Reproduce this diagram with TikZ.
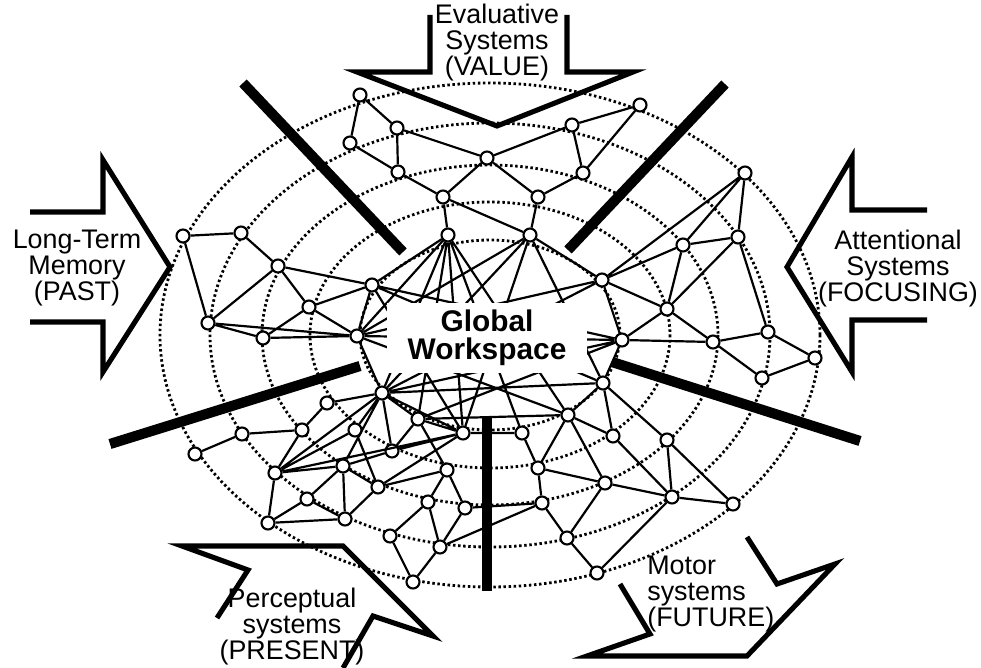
\documentclass[tikz,border=0pt]{standalone}
\usepackage{fontspec}
\setmainfont{Liberation Sans}

\begin{document}
\begin{tikzpicture}[x=0.02cm,y=-0.02cm,
  nd/.style={circle,draw,fill=white,line width=1.2pt,inner sep=0pt,minimum size=0.26cm},
  ln/.style={line width=1.25pt},
  ring/.style={line width=1.6pt,dash pattern=on 1.4pt off 1.5pt},
  bar/.style={line width=5.8pt},
  arr/.style={line width=2.9pt,line join=miter},
  lbl/.style={align=center,inner sep=0pt,font=\fontsize{15.3}{14.8}\selectfont}]
  \useasboundingbox (0,0) rectangle (981,668);

  % dotted rings
  \foreach \rx/\ry in {330/252,280/212,228/170,180/133,130/95}
    \draw[ring] (490,335) ellipse [x radius=\rx, y radius=\ry];

  % top nodes
  \node[nd] (t1) at (360,95) {};
  \node[nd] (t2) at (397,128) {};
  \node[nd] (t3) at (350,143) {};
  \node[nd] (t4) at (398,172) {};
  \node[nd] (t5) at (487,158) {};
  \node[nd] (t6) at (640,105) {};
  \node[nd] (t7) at (572,125) {};
  \node[nd] (t8) at (583,173) {};
  \node[nd] (t9) at (443,197) {};
  \node[nd] (t10) at (538,197) {};
  \node[nd] (t11) at (448,235) {};
  \node[nd] (t12) at (530,235) {};
  % left nodes
  \node[nd] (l1) at (183,236) {};
  \node[nd] (l2) at (241,233) {};
  \node[nd] (l3) at (278,266) {};
  \node[nd] (l4) at (372,285) {};
  \node[nd] (l5) at (309,307) {};
  \node[nd] (l6) at (208,323) {};
  \node[nd] (l7) at (263,338) {};
  \node[nd] (l8) at (357,336) {};
  % right nodes
  \node[nd] (r1) at (745,173) {};
  \node[nd] (r2) at (683,245) {};
  \node[nd] (r3) at (738,237) {};
  \node[nd] (r4) at (602,280) {};
  \node[nd] (r5) at (667,309) {};
  \node[nd] (r6) at (622,340) {};
  \node[nd] (r7) at (713,342) {};
  \node[nd] (r8) at (768,332) {};
  \node[nd] (r9) at (815,358) {};
  \node[nd] (r10) at (762,378) {};
  \node[nd] (r11) at (603,383) {};
  % lower left nodes
  \node[nd] (b1) at (382,393) {};
  \node[nd] (b2) at (327,403) {};
  \node[nd] (b3) at (242,434) {};
  \node[nd] (b4) at (195,454) {};
  \node[nd] (b5) at (302,430) {};
  \node[nd] (b6) at (355,430) {};
  \node[nd] (b7) at (418,419) {};
  \node[nd] (b8) at (463,433) {};
  \node[nd] (b9) at (275,473) {};
  \node[nd] (b10) at (343,466) {};
  \node[nd] (b11) at (392,451) {};
  \node[nd] (b12) at (378,487) {};
  \node[nd] (b13) at (447,470) {};
  \node[nd] (b14) at (307,499) {};
  \node[nd] (b15) at (428,502) {};
  \node[nd] (b16) at (465,508) {};
  \node[nd] (b17) at (268,523) {};
  \node[nd] (b18) at (345,519) {};
  \node[nd] (b19) at (390,536) {};
  \node[nd] (b20) at (440,547) {};
  \node[nd] (b21) at (413,582) {};
  % lower right nodes
  \node[nd] (d1) at (522,433) {};
  \node[nd] (d2) at (568,415) {};
  \node[nd] (d3) at (613,436) {};
  \node[nd] (d4) at (667,440) {};
  \node[nd] (d5) at (538,468) {};
  \node[nd] (d6) at (542,503) {};
  \node[nd] (d7) at (605,483) {};
  \node[nd] (d8) at (672,497) {};
  \node[nd] (d9) at (733,504) {};
  \node[nd] (d10) at (567,538) {};
  \node[nd] (d11) at (597,573) {};

  % links
  \draw[ln] (t1)--(t2) (t1)--(t3) (t2)--(t4) (t3)--(t4) (t2)--(t5) (t4)--(t9)
    (t5)--(t9) (t5)--(t10) (t5)--(t7) (t7)--(t6) (t7)--(t8) (t6)--(t8)
    (t8)--(t10) (t9)--(t11) (t9)--(t12) (t10)--(t12) (l4)--(t11) (t12)--(r4);
  \draw[ln] (l1)--(l2) (l1)--(l6) (l2)--(l3) (l3)--(l4) (l3)--(l5) (l3)--(l6)
    (l4)--(l5) (l4)--(l8) (l5)--(l7) (l5)--(l8) (l6)--(l7) (l6)--(l8)
    (l7)--(l8) (l8)--(b1);
  \draw[ln] (r1)--(r4) (r1)--(r2) (r1)--(r3) (r2)--(r3) (r2)--(r4) (r2)--(r5)
    (r3)--(r5) (r3)--(r8) (r4)--(r5) (r4)--(r6) (r5)--(r6) (r5)--(r7)
    (r6)--(r7) (r7)--(r8) (r7)--(r10) (r8)--(r9) (r9)--(r10) (r6)--(r11);
  \draw[ln] (b4)--(b3) (b3)--(b5) (b5)--(b2) (b2)--(b1) (b5)--(b9) (b1)--(b9)
    (b1)--(b10) (b1)--(b11) (b1)--(b7) (b1)--(b8) (b9)--(b10) (b9)--(b17)
    (b9)--(b8) (b10)--(b14) (b10)--(b18) (b10)--(b11) (b10)--(b12)
    (b6)--(b1) (b6)--(b12) (b6)--(b9) (b11)--(b8) (b12)--(b13) (b12)--(b18)
    (b12)--(b8) (b13)--(b15) (b13)--(b16) (b13)--(b7) (b14)--(b17)
    (b14)--(b18) (b17)--(b18) (b15)--(b19) (b15)--(b20) (b16)--(b20)
    (b19)--(b21) (b20)--(b21) (b7)--(b11) (b7)--(b8);
  \draw[ln] (b7)--(d2) (b8)--(d1) (d1)--(d5) (d2)--(d5) (d2)--(d7) (d2)--(d3)
    (r11)--(d2) (r11)--(d3) (r11)--(d4) (d4)--(d8) (d4)--(d9) (d3)--(d8)
    (d5)--(d6) (d5)--(d7) (d7)--(d8) (d8)--(d9) (d6)--(d10) (d7)--(d10)
    (d10)--(d11) (d8)--(d11) (b16)--(d6) (b20)--(d6);
  % links into the workspace
  \draw[ln] (t11)--(b1) (t11)--(b7) (t11)--(b8) (t11)--(d1) (t11)--(d2)
    (t11)--(l8) (t12)--(b1) (t12)--(b8) (t12)--(r11) (t12)--(l8)
    (l4)--(r6) (l4)--(b8) (l4)--(r11) (l8)--(r4) (l8)--(r6) (l8)--(d2)
    (b1)--(r4) (b1)--(r6) (b1)--(r11) (r6)--(b7);

  \node[fill=white,inner sep=0pt,minimum width=4cm,minimum height=1.4cm,align=center,
    font=\bfseries\fontsize{17}{16}\selectfont] (gw) at (487,338) {Global\\Workspace};

  % barriers
  \draw[bar] (243,83) -- (403,252);
  \draw[bar] (725,84) -- (568,250);
  \draw[bar] (110,444) -- (360,366);
  \draw[bar] (612,362) -- (860,441);
  \draw[bar] (487,417) -- (487,591);

  % big arrows
  \draw[arr] (430,15) -- (430,72) -- (357,72) -- (497,126) -- (633,72) -- (567,72) -- (567,15);
  \draw[arr] (30,212) -- (103,212) -- (103,160) -- (170,267) -- (103,372) -- (103,322) -- (30,322);
  \draw[arr] (927,210) -- (852,210) -- (852,157) -- (787,267) -- (852,372) -- (852,320) -- (927,320);
  \draw[arr] (217,618) -- (248,570) -- (182,546) -- (343,546) -- (433,636) -- (373,616) -- (343,668);
  \draw[arr] (620,584) -- (650,634) -- (587,656) -- (747,656) -- (835,564) -- (777,584) -- (747,537);

  \node[lbl] (eval) at (497,43) {Evaluative\\Systems\\(VALUE)};
  \node[lbl] (mem) at (77,268) {Long-Term\\Memory\\(PAST)};
  \node[lbl] (att) at (898,269) {Attentional\\Systems\\(FOCUSING)};
  \node[lbl] (perc) at (292,627) {Perceptual\\systems\\(PRESENT)};
  \node[lbl,align=left,anchor=west] (mot) at (647,594) {Motor\\systems\\(FUTURE)};
\end{tikzpicture}
\end{document}
